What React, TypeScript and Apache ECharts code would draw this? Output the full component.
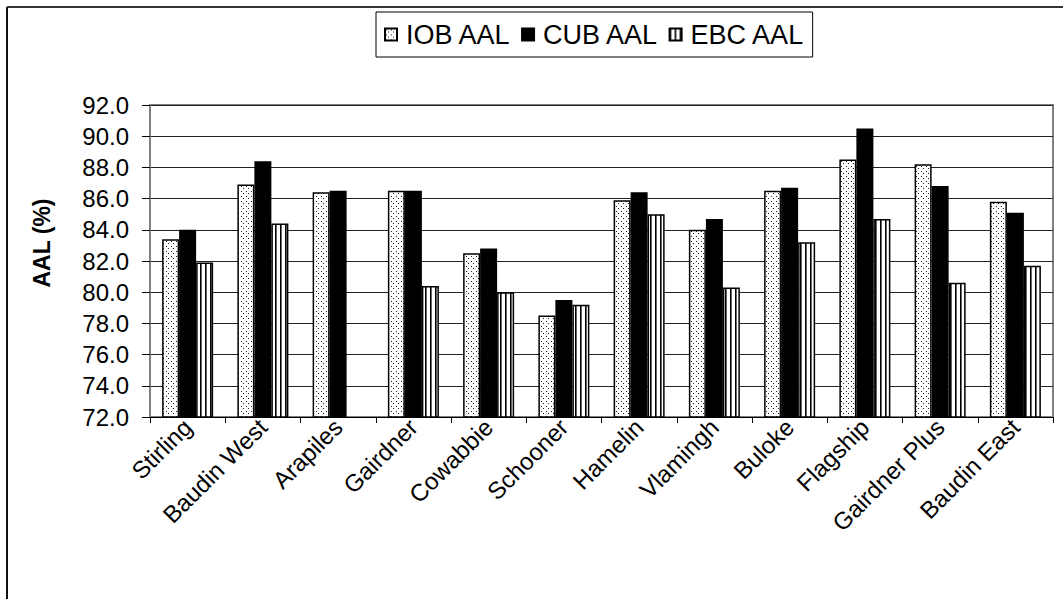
import React, { useEffect, useRef } from "react";
import * as echarts from "echarts";

const categories = [
  "Stirling", "Baudin West", "Arapiles", "Gairdner", "Cowabbie", "Schooner",
  "Hamelin", "Vlamingh", "Buloke", "Flagship", "Gairdner Plus", "Baudin East",
];
const iobAAL = [83.4, 86.9, 86.4, 86.5, 82.5, 78.5, 85.9, 84.0, 86.5, 88.5, 88.2, 85.8];
const cubAAL = [84.0, 88.4, 86.5, 86.5, 82.8, 79.5, 86.4, 84.7, 86.7, 90.5, 86.8, 85.1];
const ebcAAL: (number | null)[] = [81.9, 84.4, null, 80.4, 80.0, 79.2, 85.0, 80.3, 83.2, 84.7, 80.6, 81.7];
const seriesNames = ["IOB AAL", "CUB AAL", "EBC AAL"];
const yTitle = "AAL (%)";

// White tile with a diagonal grid of dark dots
function dotPattern(): HTMLCanvasElement {
  const c = document.createElement("canvas");
  c.width = 5;
  c.height = 5;
  const ctx = c.getContext("2d")!;
  ctx.fillStyle = "#ffffff";
  ctx.fillRect(0, 0, 5, 5);
  ctx.fillStyle = "#222222";
  ctx.fillRect(1, 1, 1, 1);
  ctx.fillRect(3, 3, 1, 1);
  return c;
}

// White tile with thin vertical black stripes
function stripePattern(): HTMLCanvasElement {
  const c = document.createElement("canvas");
  c.width = 5;
  c.height = 5;
  const ctx = c.getContext("2d")!;
  ctx.fillStyle = "#ffffff";
  ctx.fillRect(0, 0, 5, 5);
  ctx.fillStyle = "#000000";
  ctx.fillRect(0, 0, 1, 5);
  ctx.fillStyle = "#666666";
  ctx.fillRect(1, 0, 1, 5);
  return c;
}

export default function App() {
  const ref = useRef<HTMLDivElement>(null);

  useEffect(() => {
    if (!ref.current) return;
    const chart = echarts.init(ref.current, undefined, { renderer: "svg" });
    const font = "Arial, 'Liberation Sans', sans-serif";
    const fills = [
      { image: dotPattern(), repeat: "repeat" },
      "#000000",
      { image: stripePattern(), repeat: "repeat" },
    ];
    const data = [iobAAL, cubAAL, ebcAAL];

    chart.setOption({
      animation: false,
      backgroundColor: "#ffffff",
      textStyle: { fontFamily: font },
      grid: {
        left: 150,
        top: 105,
        width: 903,
        height: 312,
        show: true,
        borderColor: "#808080",
        borderWidth: 2,
        backgroundColor: "transparent",
      },
      legend: {
        left: 376,
        top: 12,
        padding: [9, 8, 9, 8],
        itemGap: 10,
        itemWidth: 12,
        itemHeight: 12,
        icon: "rect",
        borderColor: "#000000",
        borderWidth: 1,
        textStyle: { fontSize: 27, color: "#000", fontFamily: font, padding: [0, 0, 0, 4] },
        data: seriesNames,
      },
      xAxis: {
        type: "category",
        data: categories,
        axisLine: { lineStyle: { color: "#000", width: 1 } },
        axisTick: { show: true, length: 6, lineStyle: { color: "#000" } },
        axisLabel: {
          interval: 0,
          rotate: 45,
          fontSize: 24,
          color: "#000",
          margin: 6,
          padding: [22, 0, 0, 0],
          fontFamily: font,
        },
      },
      yAxis: {
        type: "value",
        min: 72,
        max: 92,
        interval: 2,
        axisLine: { show: true, lineStyle: { color: "#808080", width: 2 } },
        axisTick: { show: true, length: 8, lineStyle: { color: "#000" } },
        axisLabel: {
          fontSize: 24,
          color: "#000",
          margin: 21,
          fontFamily: font,
          formatter: (v: number) => v.toFixed(1),
        },
        splitLine: { show: true, lineStyle: { color: "#222", width: 1 } },
      },
      series: seriesNames.map((name, i) => ({
        name,
        type: "bar",
        data: data[i],
        barWidth: 17,
        barGap: "0%",
        itemStyle: { color: fills[i], borderColor: "#000", borderWidth: 1.5 },
      })),
      graphic: [
        {
          type: "line",
          shape: { x1: 7, y1: 7, x2: 1063, y2: 7 },
          style: { stroke: "#333", lineWidth: 2 },
        },
        {
          type: "line",
          shape: { x1: 7, y1: 7, x2: 7, y2: 599 },
          style: { stroke: "#111", lineWidth: 2 },
        },
        {
          type: "text",
          x: 42,
          y: 243,
          rotation: Math.PI / 2,
          style: {
            text: yTitle,
            font: `bold 23px ${font}`,
            fill: "#000",
            align: "center",
            verticalAlign: "middle",
          },
        },
      ],
    });
    return () => chart.dispose();
  }, []);

  return (
    <div
      ref={ref}
      style={{ position: "fixed", left: 0, top: 0, width: 1063, height: 599, background: "#fff" }}
    />
  );
}
